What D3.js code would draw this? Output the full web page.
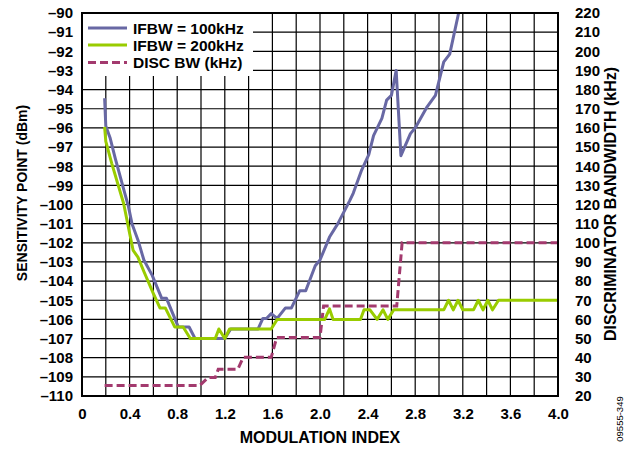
<!DOCTYPE html>
<html><head><meta charset="utf-8">
<script src="https://cdn.jsdelivr.net/npm/d3@7"></script>
<style>
html,body{margin:0;padding:0;background:#fff;}
text{font-family:Arial,"Liberation Sans",Helvetica,sans-serif;font-weight:bold;fill:#000;}
</style></head>
<body>
<svg id="chart" width="636" height="449"></svg>
<script>
// ---- data ----
const xTicks = [0, 0.4, 0.8, 1.2, 1.6, 2.0, 2.4, 2.8, 3.2, 3.6, 4.0];
const xTickLabels = ["0", "0.4", "0.8", "1.2", "1.6", "2.0", "2.4", "2.8", "3.2", "3.6", "4.0"];
const leftTicks = d3.range(-90, -111, -1);
const rightTicks = d3.range(220, 19, -10);

const ifbw100 = [
  [0.19,-94.45],[0.20,-95.9],[0.235,-96.5],[0.28,-97.6],[0.35,-99.2],[0.39,-100.1],[0.42,-101.0],
  [0.47,-101.85],[0.52,-102.9],[0.59,-103.7],[0.67,-104.9],[0.71,-104.9],[0.81,-106.4],[0.90,-106.4],
  [0.95,-107.0],[1.20,-107.0],[1.25,-106.5],[1.48,-106.5],[1.52,-105.95],[1.55,-105.95],[1.59,-105.7],
  [1.64,-105.95],[1.71,-105.4],[1.76,-105.4],[1.83,-104.5],[1.88,-104.5],[1.96,-103.2],[2.00,-102.9],
  [2.08,-101.7],[2.15,-101.0],[2.25,-99.8],[2.28,-99.4],[2.35,-98.2],[2.41,-97.4],[2.45,-96.4],
  [2.52,-95.5],[2.56,-94.55],[2.60,-94.3],[2.64,-93.0],[2.68,-97.45],[2.76,-96.3],[2.80,-96.0],
  [2.90,-94.9],[2.97,-94.3],[3.04,-92.55],[3.09,-92.15],[3.165,-90.0]
];
const ifbw200 = [
  [0.19,-95.95],[0.20,-96.7],[0.25,-97.85],[0.35,-99.95],[0.40,-101.5],[0.43,-102.4],[0.47,-102.75],
  [0.52,-103.5],[0.60,-104.65],[0.655,-105.4],[0.70,-105.4],[0.78,-106.4],[0.85,-106.4],[0.91,-107],
  [1.12,-107],[1.15,-106.5],[1.20,-107],[1.24,-106.5],[1.59,-106.5],[1.64,-106],[2.04,-106],
  [2.08,-105.45],[2.11,-106],[2.34,-106],[2.37,-105.5],[2.42,-105.5],[2.48,-106],[2.53,-105.5],
  [2.57,-106],[2.62,-105.5],[3.04,-105.5],[3.08,-105],[3.12,-105.5],[3.16,-105],[3.20,-105.5],
  [3.29,-105.5],[3.33,-105],[3.37,-105.5],[3.41,-105],[3.45,-105.5],[3.50,-105],[4.0,-105]
];
const discBW = [
  [0.19,25.5],[0.99,25.5],[1.06,29.6],[1.12,29.6],[1.145,34],[1.31,34],[1.355,40.2],[1.59,40.2],
  [1.636,50.5],[2.0,50.5],[2.03,67],[2.645,67],[2.69,100],[4.0,100]
];
const legendLabels = ["IFBW = 100kHz", "IFBW = 200kHz", "DISC BW (kHz)"];
const colors = ["#6868a4", "#99cc00", "#a33a6e"];

// ---- layout ----
const svg = d3.select("#chart");
const L = 82, R = 558, T = 13, B = 396;
const x = d3.scaleLinear().domain([0, 4]).range([L, R]);
const yL = d3.scaleLinear().domain([-110, -90]).range([B, T]);
const yR = d3.scaleLinear().domain([20, 220]).range([B, T]);

// grid
const g = svg.append("g");
g.selectAll("line.v").data(d3.range(1, 20).map(i => i * 0.2)).enter().append("line")
  .attr("x1", d => x(d)).attr("x2", d => x(d)).attr("y1", T).attr("y2", B)
  .attr("stroke", "#000").attr("stroke-width", 1.2);
g.selectAll("line.h").data(leftTicks.slice(1, -1)).enter().append("line")
  .attr("y1", d => yL(d)).attr("y2", d => yL(d)).attr("x1", L).attr("x2", R)
  .attr("stroke", "#000").attr("stroke-width", 1.2);

// legend background (covers the grid)
svg.append("rect").attr("x", L).attr("y", T).attr("width", 171).attr("height", 63).attr("fill", "#fff");

// clip
svg.append("clipPath").attr("id", "clip").append("rect")
  .attr("x", L).attr("y", T).attr("width", R - L).attr("height", B - T);

const lineL = d3.line().x(d => x(d[0])).y(d => yL(d[1]));
const lineR = d3.line().x(d => x(d[0])).y(d => yR(d[1]));
const plot = svg.append("g").attr("clip-path", "url(#clip)");
plot.append("path").datum(discBW).attr("d", lineR).attr("fill", "none")
  .attr("stroke", colors[2]).attr("stroke-width", 3).attr("stroke-dasharray", "8,4");
plot.append("path").datum(ifbw100).attr("d", lineL).attr("fill", "none")
  .attr("stroke", colors[0]).attr("stroke-width", 3).attr("stroke-linejoin", "round");
plot.append("path").datum(ifbw200).attr("d", lineL).attr("fill", "none")
  .attr("stroke", colors[1]).attr("stroke-width", 3).attr("stroke-linejoin", "round");

// border
svg.append("rect").attr("x", L).attr("y", T).attr("width", R - L).attr("height", B - T)
  .attr("fill", "none").attr("stroke", "#000").attr("stroke-width", 2);

// axes labels
const axL = d3.axisLeft(yL).tickValues(leftTicks).tickSize(0).tickPadding(9)
  .tickFormat(d => "\u2013" + Math.abs(d));
const gL = svg.append("g").attr("transform", `translate(${L},0)`).call(axL);
const axR = d3.axisRight(yR).tickValues(rightTicks).tickSize(0).tickPadding(17)
  .tickFormat(d => String(d));
const gR = svg.append("g").attr("transform", `translate(${R},0)`).call(axR);
const axB = d3.axisBottom(x).tickValues(xTicks).tickSize(0).tickPadding(12)
  .tickFormat((d, i) => xTickLabels[i]);
const gB = svg.append("g").attr("transform", `translate(0,${B})`).call(axB);
[gL, gR, gB].forEach(a => {
  a.select(".domain").remove();
  a.selectAll("text").style("font-size", "15px").style("font-weight", "bold")
    .style("font-family", "Arial, 'Liberation Sans', sans-serif").attr("fill", "#000");
});

// axis titles
svg.append("text").attr("x", 320).attr("y", 443).attr("text-anchor", "middle")
  .style("font-size", "16px").text("MODULATION INDEX");
svg.append("text").attr("transform", "translate(27,193) rotate(-90)").attr("text-anchor", "middle")
  .style("font-size", "14px").text("SENSITIVITY POINT (dBm)");
svg.append("text").attr("transform", "translate(616,204) rotate(-90)").attr("text-anchor", "middle")
  .style("font-size", "16px").text("DISCRIMINATOR BANDWIDTH (kHz)");
svg.append("text").attr("transform", "translate(623,419) rotate(-90)").attr("text-anchor", "middle")
  .style("font-size", "9.5px").style("font-weight", "normal").text("09555-349");

// legend
const legY = [28, 45, 62.5];
const leg = svg.append("g");
legendLabels.forEach((lab, i) => {
  leg.append("line").attr("x1", 88).attr("x2", 127).attr("y1", legY[i]).attr("y2", legY[i])
    .attr("stroke", colors[i]).attr("stroke-width", 3)
    .attr("stroke-dasharray", i === 2 ? "8,4" : null);
  leg.append("text").attr("x", 133).attr("y", legY[i]).attr("dy", "0.36em")
    .style("font-size", "15.5px").text(lab);
});
</script>
</body></html>
